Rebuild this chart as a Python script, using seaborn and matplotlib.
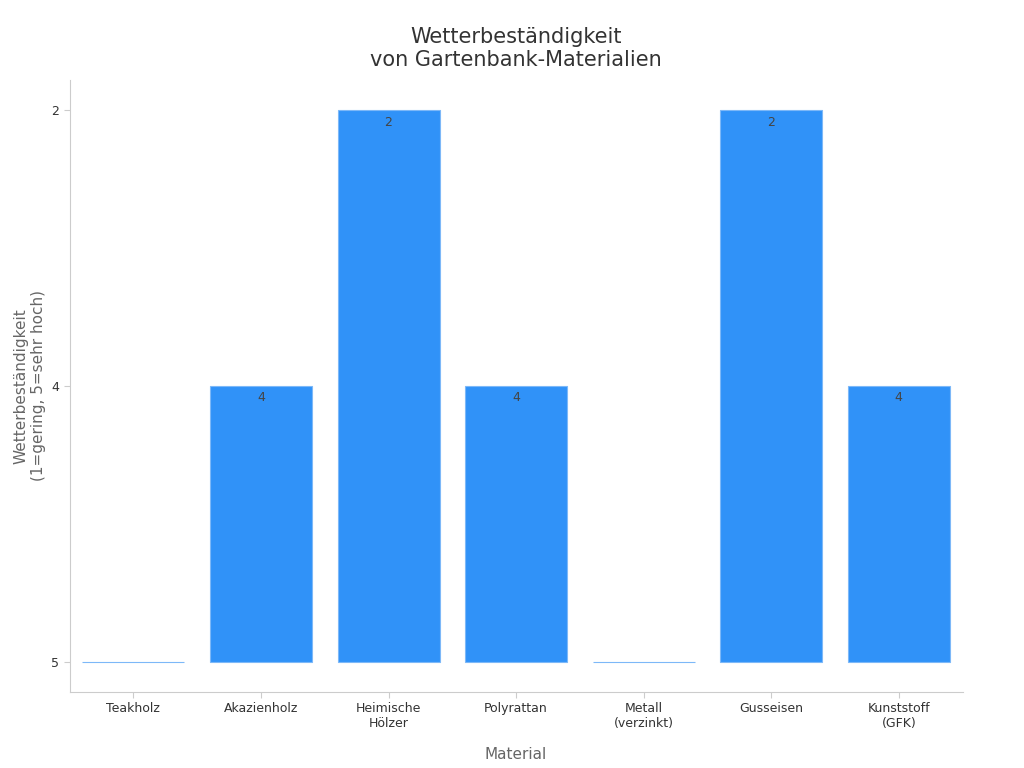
import matplotlib
matplotlib.use("Agg")
import matplotlib.pyplot as plt
import pandas as pd
import seaborn as sns

# Data
materials = ["Teakholz", "Akazienholz", "Heimische\nHölzer", "Polyrattan",
             "Metall\n(verzinkt)", "Gusseisen", "Kunststoff\n(GFK)"]
ratings = [5, 4, 2, 4, 5, 2, 4]

# the value axis behaves like a category axis: 5 at the bottom, then 4, then 2
rating_order = ["5", "4", "2"]
pos = [rating_order.index(str(r)) for r in ratings]

df = pd.DataFrame({"Material": materials, "pos": pos, "rating": ratings})

fig, ax = plt.subplots(figsize=(10.24, 7.68), dpi=100)
sns.barplot(data=df, x="Material", y="pos", color="#3092F8", width=0.8,
            edgecolor="#7DB8F8", linewidth=0.8, saturation=1, ax=ax)

for i, row in df.iterrows():
    if row["pos"] > 0:
        ax.text(i, row["pos"] - 0.02, str(row["rating"]), ha="center", va="top",
                fontsize=9, color="#444444")

ax.set_ylim(-0.11, 2.11)
ax.set_yticks(range(len(rating_order)))
ax.set_yticklabels(rating_order)
ax.set_xlim(-0.5, len(materials) - 0.5)

ax.set_title("Wetterbeständigkeit\nvon Gartenbank-Materialien", fontsize=15, color="#333333", pad=10)
ax.set_xlabel("Material", fontsize=11, color="#666666", labelpad=12)
ax.set_ylabel("Wetterbeständigkeit\n(1=gering, 5=sehr hoch)", fontsize=11, color="#666666")
ax.tick_params(axis="both", labelsize=9, colors="#333333", length=4)
ax.tick_params(axis="both", color="#cccccc")

for side in ["top", "right"]:
    ax.spines[side].set_visible(False)
for side in ["left", "bottom"]:
    ax.spines[side].set_color("#cccccc")

plt.subplots_adjust(left=0.068, right=0.94, top=0.896, bottom=0.099)
plt.savefig("out.png", dpi=100)
